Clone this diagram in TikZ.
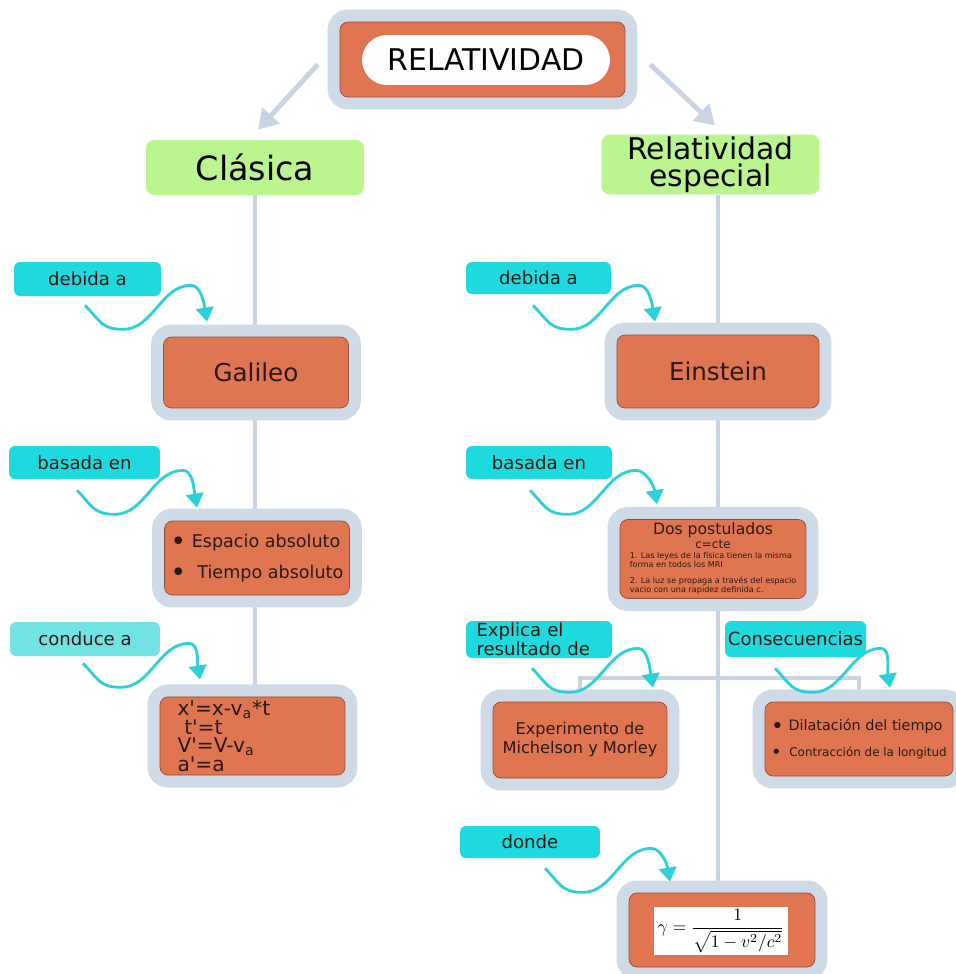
\documentclass[tikz,border=0pt]{standalone}
\usepackage{fontspec}
\setmainfont{DejaVu Sans}
\usepackage{amsmath}
\usepackage{xcolor}
\usepackage{tikz}
\usetikzlibrary{arrows.meta}
\usetikzlibrary{calc}
\usetikzlibrary{backgrounds}

\definecolor{cardorange}{HTML}{E07651}
\definecolor{cardframe}{HTML}{CFDAE7}
\definecolor{stemgrey}{HTML}{C8D4E2}
\definecolor{leafgreen}{HTML}{BAF58F}
\definecolor{cuecyan}{HTML}{1EDADF}
\definecolor{cuepale}{HTML}{72E3E5}
\definecolor{swooshcyan}{HTML}{2CD0D6}
\definecolor{inkdark}{HTML}{2B1A12}

\newcommand{\prm}{\textquotesingle}
\newcommand{\dotmark}{\raisebox{-0.35ex}{\scalebox{1.5}{\textbullet}}}
\newcommand{\swoosh}[2]{\draw[swoosh] (#1) .. controls +(15,15) and +(-22,0) .. ++(38,24) .. controls +(30,0) and +(-30,0) .. ++(68,-44) .. controls +(10,0) and +(-3,-18) .. (#2);}

\tikzset{
    card/.style={fill=cardorange, draw=cardorange!65!black, line width=0.4pt, rounded corners=0.16cm, preaction={draw=cardframe, line width=0.5cm}, text=inkdark, inner sep=2pt},
    leaf/.style={fill=leafgreen, rounded corners=0.16cm, minimum width=4.36cm, minimum height=1.1cm, inner sep=1pt},
    cue/.style={fill=cuecyan, rounded corners=0.12cm, minimum width=2.94cm, minimum height=0.66cm, inner sep=1pt, text=inkdark, font=\fontsize{10.3}{11.5}\selectfont},
    stem/.style={draw=stemgrey, line width=2.8pt},
    bigarrow/.style={draw=stemgrey, line width=2.8pt, -{Triangle[width=13pt,length=11pt]}},
    swoosh/.style={draw=swooshcyan, line width=1.6pt, -{Triangle[width=10pt,length=8pt]}}
}

\begin{document}
\begin{tikzpicture}[x=0.02cm,y=-0.02cm]
            \useasboundingbox (0,0) rectangle (956,974);

            \node[card, minimum width=5.7cm, minimum height=1.5cm] (head) at (482.5,59.5) {};
            \node[fill=white, rounded corners=0.5cm, minimum width=4.96cm, minimum height=1cm, font=\fontsize{17}{20}\selectfont] (title) at (486,60) {RELATIVIDAD};

            \node[leaf, font=\fontsize{19}{22}\selectfont] (clasica) at (255,167.5) {Clásica};
            \node[leaf, align=center, font=\fontsize{17}{15.5}\selectfont] (especial) at (710.5,164.5) {Relatividad\\especial};

            \node[card, minimum width=3.7cm, minimum height=1.42cm, font=\fontsize{14}{16}\selectfont] (galileo) at (256,372.5) {Galileo};
            \node[card, minimum width=3.7cm, minimum height=1.48cm, align=left, font=\fontsize{10}{17.5}\selectfont] (espacio) at (257,558) {\dotmark\ Espacio absoluto\\\dotmark\ \ Tiempo absoluto};
            \node[card, minimum width=3.7cm, minimum height=1.44cm, text width=3.0cm, align=left, font=\fontsize{11.5}{10.6}\selectfont] (formulas) at (252.5,736) {x\prm=x-v\textsubscript{a}*t\\\ t\prm=t\\V\prm=V-v\textsubscript{a}\\a\prm=a};

            \node[cue, minimum height=0.68cm] (debL) at (87.5,279) {debida a};
            \node[cue, minimum width=3.02cm] (basL) at (84.5,462.5) {basada en};
            \node[cue, fill=cuepale, minimum width=3cm, minimum height=0.68cm] (conduce) at (85,639) {conduce a};

            \node[cue, minimum width=2.9cm, minimum height=0.64cm] (debR) at (538.5,278) {debida a};
            \node[cue, minimum width=2.92cm] (basR) at (539,462.5) {basada en};
            \node[cue, minimum width=2.92cm, minimum height=0.74cm, text width=2.5cm, align=left, font=\fontsize{10.3}{9.8}\selectfont] (explica) at (539,639.5) {Explica el\\resultado de};
            \node[cue, minimum width=2.82cm, minimum height=0.72cm] (consecT) at (795.5,639) {Consecuencias};
            \node[cue, minimum width=2.8cm, minimum height=0.64cm] (donde) at (530,842) {donde};

            \node[card, minimum width=4.04cm, minimum height=1.46cm, font=\fontsize{14}{16}\selectfont] (einstein) at (718,371.5) {Einstein};
            \node[card, minimum width=3.72cm, minimum height=1.48cm, align=center, font=\fontsize{8.9}{6}\selectfont] (postulados) at (713,559) {Dos postulados\\{\fontsize{6.8}{6}\selectfont c=cte}\\{\fontsize{4.6}{5.2}\selectfont\begin{tabular}[t]{@{}l@{}}1. Las leyes de la física tienen la misma\\forma en todos los MRI\\[3.4pt]2. La luz se propaga a través del espacio\\vacio con una rapidez definida c.\end{tabular}}};
            \node[card, minimum width=3.48cm, minimum height=1.52cm, align=center, font=\fontsize{9.2}{10.8}\selectfont] (michelson) at (580,740) {Experimento de\\Michelson y Morley};
            \node[card, minimum width=3.76cm, minimum height=1.48cm, align=left, font=\fontsize{8.2}{14.7}\selectfont] (consec) at (859,739) {\dotmark\ Dilatación del tiempo\\{\fontsize{6.8}{8}\selectfont\dotmark\ \ Contracción de la longitud}};
            \node[card, minimum width=3.72cm, minimum height=1.48cm] (gammabox) at (722,930) {};
            \node[fill=white, minimum width=2.68cm, minimum height=0.96cm, inner sep=0pt, font=\fontsize{9.7}{11}\selectfont] (gamma) at (721,931) {$\gamma=\dfrac{1}{\sqrt{1-v^2/c^2}}$};

            \begin{pgfonlayer}{background}
                \draw[stem] (clasica) -- (clasica |- formulas);
                \draw[stem] (especial.south -| einstein) -- (einstein |- gammabox);
                \coordinate (bar) at (718,678);
                \draw[stem] (michelson) |- (bar) -| (consec);
            \end{pgfonlayer}

            \draw[bigarrow] ($(head.west)+(-22,5)$) -- ($(clasica.north)+(3,-10)$);
            \draw[bigarrow] ($(head.east)+(25,5)$) -- ($(especial.north)+(4.5,-9)$);

            \swoosh{$(debL.south)+(-2.5,9)$}{$(galileo.north)+(-49,-15)$}
            \swoosh{$(basL.south)+(-7.5,11)$}{$(espacio.north)+(-60,-13)$}
            \swoosh{$(conduce.south)+(-2,7)$}{$(formulas.north)+(-52.5,-17)$}
            \swoosh{$(debR.south)+(-5.5,11)$}{$(einstein.north)+(-63,-13)$}
            \swoosh{$(basR.south)+(-9,11)$}{$(postulados.north)+(-56,-15)$}
            \swoosh{$(explica.south)+(-7,10)$}{$(michelson.north)+(73,-14)$}
            \swoosh{$(consecT.south)+(-20.5,11)$}{$(consec.north)+(31,-14)$}
            \swoosh{$(donde.south)+(15,10)$}{$(gammabox.north)+(-52,-11)$}
        \end{tikzpicture}
\end{document}
